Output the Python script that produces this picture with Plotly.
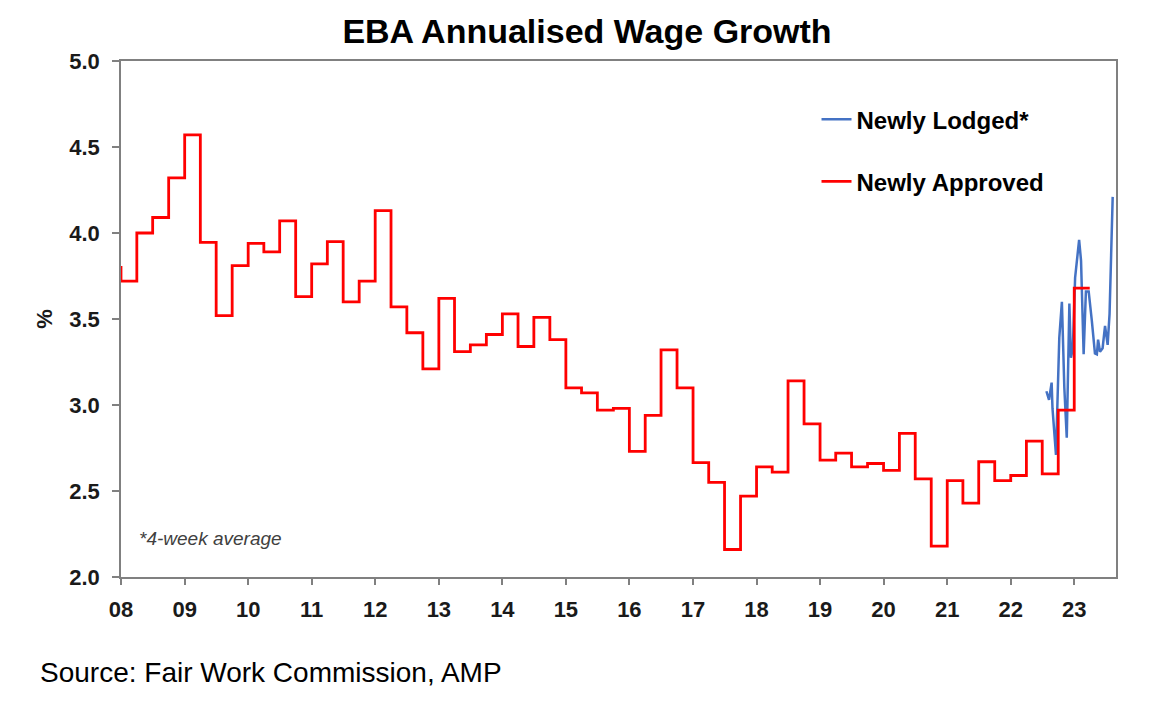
import plotly.graph_objects as go
import pandas as pd

# ---- Data ----
# Newly approved EBAs: quarterly annualised wage growth (%), 2007Q4 .. 2023Q1
approved_quarters = [
    "2007Q4",
    "2008Q1", "2008Q2", "2008Q3", "2008Q4",
    "2009Q1", "2009Q2", "2009Q3", "2009Q4",
    "2010Q1", "2010Q2", "2010Q3", "2010Q4",
    "2011Q1", "2011Q2", "2011Q3", "2011Q4",
    "2012Q1", "2012Q2", "2012Q3", "2012Q4",
    "2013Q1", "2013Q2", "2013Q3", "2013Q4",
    "2014Q1", "2014Q2", "2014Q3", "2014Q4",
    "2015Q1", "2015Q2", "2015Q3", "2015Q4",
    "2016Q1", "2016Q2", "2016Q3", "2016Q4",
    "2017Q1", "2017Q2", "2017Q3", "2017Q4",
    "2018Q1", "2018Q2", "2018Q3", "2018Q4",
    "2019Q1", "2019Q2", "2019Q3", "2019Q4",
    "2020Q1", "2020Q2", "2020Q3", "2020Q4",
    "2021Q1", "2021Q2", "2021Q3", "2021Q4",
    "2022Q1", "2022Q2", "2022Q3", "2022Q4",
    "2023Q1",
]
approved_values = [
    3.80,
    3.72, 4.00, 4.09, 4.32,
    4.57, 3.945, 3.52, 3.81,
    3.94, 3.89, 4.07, 3.63,
    3.82, 3.95, 3.60, 3.72,
    4.13, 3.57, 3.42, 3.21,
    3.62, 3.31, 3.35, 3.41,
    3.53, 3.34, 3.51, 3.38,
    3.10, 3.07, 2.97, 2.98,
    2.73, 2.94, 3.32, 3.10,
    2.665, 2.55, 2.16, 2.47,
    2.64, 2.61, 3.14, 2.89,
    2.68, 2.72, 2.64, 2.66,
    2.62, 2.835, 2.57, 2.18,
    2.56, 2.43, 2.67, 2.56,
    2.59, 2.79, 2.60, 2.97,
    3.68,
]

# Newly lodged EBAs (4-week average), 2022-2023
lodged_dates = [
    "2022-07-25", "2022-08-09", "2022-08-24", "2022-08-29", "2022-09-18",
    "2022-10-07", "2022-10-22", "2022-11-05", "2022-11-19", "2022-12-04",
    "2022-12-13", "2022-12-24", "2023-01-06", "2023-01-29", "2023-02-09",
    "2023-02-24", "2023-03-09", "2023-03-25", "2023-04-12", "2023-04-30",
    "2023-05-11", "2023-05-18", "2023-05-29", "2023-06-13", "2023-06-27",
    "2023-07-12", "2023-07-23", "2023-08-10",
]
lodged_values = [
    3.08, 3.03, 3.13, 2.98, 2.71,
    3.39, 3.60, 3.10, 2.81, 3.59,
    3.275, 3.33, 3.74, 3.96, 3.84,
    3.295, 3.66, 3.66, 3.49, 3.30,
    3.295, 3.38, 3.31, 3.33, 3.46,
    3.35, 3.53, 4.21,
]

y_ticks = [2.0, 2.5, 3.0, 3.5, 4.0, 4.5, 5.0]

# quarter start dates, plus the end of the last quarter to close the final step
q_periods = pd.PeriodIndex(approved_quarters, freq="Q")
approved_x = list(q_periods.start_time) + [q_periods[-1].end_time.normalize()]
approved_y = approved_values + [approved_values[-1]]

FONT = "Liberation Sans, Arial, sans-serif"

fig = go.Figure()

fig.add_trace(go.Scatter(
    x=pd.to_datetime(lodged_dates), y=lodged_values,
    mode="lines", name="Newly Lodged*",
    line=dict(color="#4472C4", width=2.5),
    legendgroup="a",
))
fig.add_trace(go.Scatter(
    x=approved_x, y=approved_y,
    mode="lines", name="Newly Approved",
    line=dict(color="#FF0000", width=2.8, shape="hv"),
    legendgroup="b",
))

axis_col = "#808080"

fig.update_layout(
    width=1158, height=708,
    paper_bgcolor="white", plot_bgcolor="white",
    margin=dict(l=113, r=50, t=53, b=139),
    font=dict(family=FONT, color="black"),
    title=dict(
        text="EBA Annualised Wage Growth",
        font=dict(family=FONT, size=34, weight="bold", color="black"),
        x=(587 - 8) / 1158, xanchor="center", xref="container",
        y=1 - 23 / 708, yanchor="middle", yref="container",
    ),
    showlegend=True,
    legend=dict(
        x=0.699, y=0.93, xanchor="left", yanchor="top",
        bgcolor="rgba(0,0,0,0)",
        font=dict(family=FONT, size=24, weight="bold", color="black"),
        tracegroupgap=28,
        traceorder="grouped",
        itemwidth=30,
    ),
    xaxis=dict(
        type="date",
        range=["2008-01-01", "2023-08-29"],
        tick0="2008-01-01", dtick="M12", tickformat="%y",
        ticks="outside", ticklen=6, tickcolor=axis_col, tickwidth=1.5,
        showline=True, linecolor=axis_col, linewidth=1.5, mirror=True,
        showgrid=False, zeroline=False,
        ticklabelstandoff=6,
        tickfont=dict(family=FONT, size=22, weight="bold", color="#1a1a1a"),
    ),
    yaxis=dict(
        range=[2.0, 5.0],
        tickvals=y_ticks, tickformat=".1f",
        ticks="outside", ticklen=7, tickcolor=axis_col, tickwidth=1.5,
        showline=True, linecolor=axis_col, linewidth=1.5, mirror=True,
        showgrid=False, zeroline=False,
        ticklabelstandoff=8,
        tickfont=dict(family=FONT, size=22, weight="bold", color="#1a1a1a"),
        title=dict(text="%", standoff=11,
                   font=dict(family=FONT, size=22, weight="bold", color="#1a1a1a")),
    ),
)

fig.add_annotation(
    text="<i>*4-week average</i>",
    xref="paper", yref="paper",
    x=(137 - 121) / 995, y=(577 - 538) / 516,
    xanchor="left", yanchor="middle", showarrow=False,
    font=dict(family=FONT, size=19, color="#404040"),
)
fig.add_annotation(
    text="Source: Fair Work Commission, AMP",
    xref="paper", yref="paper",
    x=(38 - 121) / 995, y=-(673 - 577) / 516,
    xanchor="left", yanchor="middle", showarrow=False,
    font=dict(family=FONT, size=28, color="black"),
)

fig.write_html("out.html")
